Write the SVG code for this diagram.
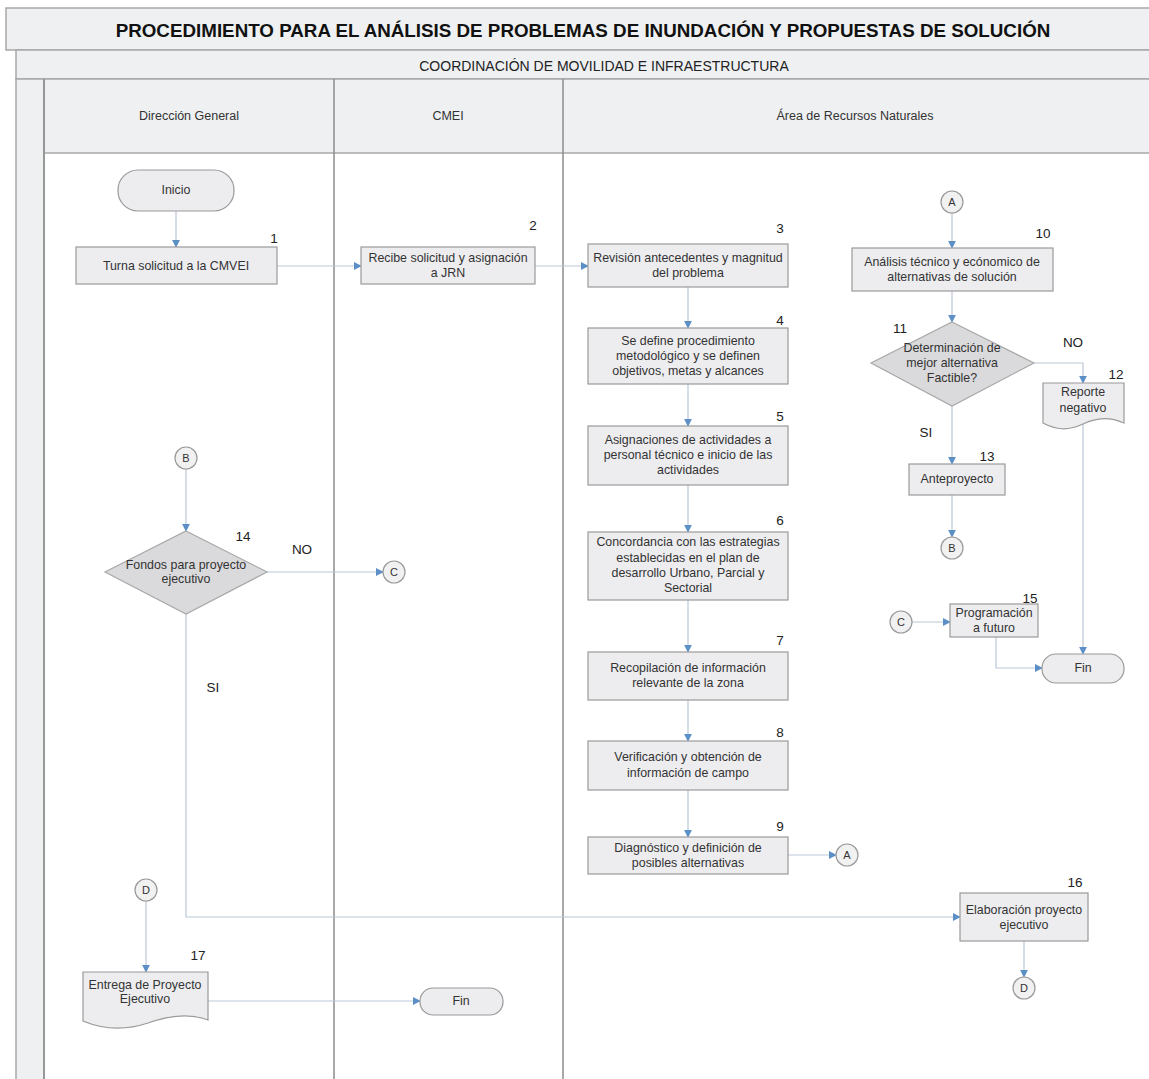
<svg xmlns="http://www.w3.org/2000/svg" width="1149" height="1079" viewBox="0 0 1149 1079">
<defs>
<style>
.hdr{fill:#eef0f2;stroke:#a6a8aa;stroke-width:1.5}
.lane{stroke:#8c8c8c;stroke-width:1.5;fill:none}
.box{fill:#ededf0;stroke:#9a9a9a;stroke-width:1.2}
.dec{fill:#dadadc;stroke:#a8a8a8;stroke-width:1.2}
.con{fill:#f1f1f1;stroke:#9a9a9a;stroke-width:1.2}
.t{font-family:"Liberation Sans",Arial,sans-serif;font-size:12.4px;fill:#333;text-anchor:middle;dominant-baseline:central}
.n{font-family:"Liberation Sans",Arial,sans-serif;font-size:13.5px;fill:#222;text-anchor:middle;dominant-baseline:central}
.c{font-family:"Liberation Sans",Arial,sans-serif;font-size:11px;fill:#333;text-anchor:middle;dominant-baseline:central}
.l{font-family:"Liberation Sans",Arial,sans-serif;font-size:12.5px;fill:#333;text-anchor:middle;dominant-baseline:central}
.edge{stroke:#b9c7d6;stroke-width:1.2;fill:none;marker-end:url(#ah)}
</style>
<marker id="ah" viewBox="0 0 10 10" refX="9" refY="5" markerWidth="8" markerHeight="8" markerUnits="userSpaceOnUse" orient="auto">
<path d="M0,0 L10,5 L0,10 Z" fill="#5b8fc6"/>
</marker>
</defs>
<rect width="1149" height="1079" fill="#ffffff"/>
<g id="pool">
<rect class="hdr" x="6" y="8" width="1150" height="42"/>
<text x="583" y="30" font-family="Liberation Sans,Arial,sans-serif" font-size="18.8" font-weight="bold" fill="#111" text-anchor="middle" dominant-baseline="central">PROCEDIMIENTO PARA EL ANÁLISIS DE PROBLEMAS DE INUNDACIÓN Y PROPUESTAS DE SOLUCIÓN</text>
<rect class="hdr" x="16" y="50" width="1140" height="29"/>
<text x="604" y="66" font-family="Liberation Sans,Arial,sans-serif" font-size="14" fill="#222" text-anchor="middle" dominant-baseline="central">COORDINACIÓN DE MOVILIDAD E INFRAESTRUCTURA</text>
<rect class="hdr" x="16" y="79" width="28" height="1010"/>
<rect class="hdr" x="44" y="79" width="1112" height="74"/>
<line class="lane" x1="44" y1="79" x2="44" y2="1079"/>
<line class="lane" x1="334" y1="79" x2="334" y2="1079"/>
<line class="lane" x1="563" y1="79" x2="563" y2="1079"/>
<text class="l" x="189" y="116">Dirección General</text>
<text class="l" x="448" y="116">CMEI</text>
<text class="l" x="855" y="116">Área de Recursos Naturales</text>
</g>
<g id="connectors">
<path class="edge" d="M176,211 V247"/>
<path class="edge" d="M277,266 H361"/>
<path class="edge" d="M535,266 H588"/>
<path class="edge" d="M688,287 V328"/>
<path class="edge" d="M688,384 V426"/>
<path class="edge" d="M688,485 V532"/>
<path class="edge" d="M688,600 V652"/>
<path class="edge" d="M688,700 V741"/>
<path class="edge" d="M688,790 V837"/>
<path class="edge" d="M788,855 H836"/>
<path class="edge" d="M952,213 V248"/>
<path class="edge" d="M952,291 V322"/>
<path class="edge" d="M1034,363 H1083 V383"/>
<path class="edge" d="M952,406 V464"/>
<path class="edge" d="M952,495 V537"/>
<path class="edge" d="M912,622 H950"/>
<path class="edge" d="M996,637 V668 H1042"/>
<path class="edge" d="M1083,424 V654"/>
<path class="edge" d="M186,469 V531"/>
<path class="edge" d="M267,572 H383"/>
<path class="edge" d="M186,614 V917 H960"/>
<path class="edge" d="M1024,941 V977"/>
<path class="edge" d="M146,901 V972"/>
<path class="edge" d="M208,1001 H420"/>
</g>
<g id="inicio">
<rect class="box" x="118" y="170" width="116" height="41" rx="20"/>
<text class="t" x="176" y="190">Inicio</text>
</g>
<g id="n1">
<rect class="box" x="76" y="247" width="201" height="37"/>
<text class="t" x="176" y="266">Turna solicitud a la CMVEI</text>
<text class="n" x="274" y="238">1</text>
</g>
<g id="n2">
<rect class="box" x="361" y="247" width="174" height="37"/>
<text class="t" x="448" y="258">Recibe solicitud y asignación</text>
<text class="t" x="448" y="273">a JRN</text>
<text class="n" x="533" y="225">2</text>
</g>
<g id="n3">
<rect class="box" x="588" y="244" width="200" height="43"/>
<text class="t" x="688" y="258">Revisión antecedentes y magnitud</text>
<text class="t" x="688" y="273">del problema</text>
<text class="n" x="780" y="228">3</text>
</g>
<g id="n4">
<rect class="box" x="588" y="328" width="200" height="56"/>
<text class="t" x="688" y="341">Se define procedimiento</text>
<text class="t" x="688" y="356">metodológico y se definen</text>
<text class="t" x="688" y="371">objetivos, metas y alcances</text>
<text class="n" x="780" y="320">4</text>
</g>
<g id="n5">
<rect class="box" x="588" y="426" width="200" height="59"/>
<text class="t" x="688" y="440">Asignaciones de actividades a</text>
<text class="t" x="688" y="455">personal técnico e inicio de las</text>
<text class="t" x="688" y="470">actividades</text>
<text class="n" x="780" y="416">5</text>
</g>
<g id="n6">
<rect class="box" x="588" y="532" width="200" height="68"/>
<text class="t" x="688" y="542">Concordancia  con las estrategias</text>
<text class="t" x="688" y="558">establecidas en el plan de</text>
<text class="t" x="688" y="573">desarrollo Urbano, Parcial y</text>
<text class="t" x="688" y="588">Sectorial</text>
<text class="n" x="780" y="520">6</text>
</g>
<g id="n7">
<rect class="box" x="588" y="652" width="200" height="48"/>
<text class="t" x="688" y="668">Recopilación de información</text>
<text class="t" x="688" y="683">relevante de la zona</text>
<text class="n" x="780" y="640">7</text>
</g>
<g id="n8">
<rect class="box" x="588" y="741" width="200" height="49"/>
<text class="t" x="688" y="757">Verificación y obtención de</text>
<text class="t" x="688" y="773">información de campo</text>
<text class="n" x="780" y="732">8</text>
</g>
<g id="n9">
<rect class="box" x="588" y="837" width="200" height="37"/>
<text class="t" x="688" y="848">Diagnóstico y definición de</text>
<text class="t" x="688" y="863">posibles alternativas</text>
<text class="n" x="780" y="826">9</text>
</g>
<g id="connA1">
<circle class="con" cx="847" cy="855" r="11"/>
<text class="c" x="847" y="855">A</text>
</g>
<g id="connA2">
<circle class="con" cx="952" cy="202" r="11"/>
<text class="c" x="952" y="202">A</text>
</g>
<g id="n10">
<rect class="box" x="852" y="248" width="201" height="43"/>
<text class="t" x="952" y="262">Análisis técnico y ecónomico de</text>
<text class="t" x="952" y="277">alternativas de solución</text>
<text class="n" x="1043" y="233">10</text>
</g>
<g id="n11">
<polygon class="dec" points="952,322 1034,363 952,406 871,363"/>
<text class="t" x="952" y="348">Determinación de</text>
<text class="t" x="952" y="363">mejor alternativa</text>
<text class="t" x="952" y="378">Factible?</text>
<text class="n" x="900" y="328">11</text>
<text class="n" x="1073" y="342">NO</text>
<text class="n" x="926" y="432">SI</text>
</g>
<g id="n12">
<path class="box" d="M1043,383 H1124 V423 C1110,417 1098,417 1083,424 C1068,431 1056,430 1043,423 Z"/>
<text class="t" x="1083" y="392">Reporte</text>
<text class="t" x="1083" y="408">negativo</text>
<text class="n" x="1116" y="374">12</text>
</g>
<g id="n13">
<rect class="box" x="909" y="464" width="96" height="31"/>
<text class="t" x="957" y="479">Anteproyecto</text>
<text class="n" x="987" y="456">13</text>
</g>
<g id="connB1">
<circle class="con" cx="952" cy="548" r="11"/>
<text class="c" x="952" y="548">B</text>
</g>
<g id="connC2">
<circle class="con" cx="901" cy="622" r="11"/>
<text class="c" x="901" y="622">C</text>
</g>
<g id="n15">
<rect class="box" x="950" y="604" width="88" height="33"/>
<text class="t" x="994" y="613">Programación</text>
<text class="t" x="994" y="628">a futuro</text>
<text class="n" x="1030" y="598">15</text>
</g>
<g id="fin1">
<rect class="box" x="1042" y="654" width="82" height="29" rx="14"/>
<text class="t" x="1083" y="668">Fin</text>
</g>
<g id="connB2">
<circle class="con" cx="186" cy="458" r="11"/>
<text class="c" x="186" y="458">B</text>
</g>
<g id="n14">
<polygon class="dec" points="186,531 267,572 186,614 105,572"/>
<text class="t" x="186" y="565">Fondos para proyecto</text>
<text class="t" x="186" y="579">ejecutivo</text>
<text class="n" x="243" y="536">14</text>
<text class="n" x="302" y="549">NO</text>
<text class="n" x="213" y="687">SI</text>
</g>
<g id="connC1">
<circle class="con" cx="394" cy="572" r="11"/>
<text class="c" x="394" y="572">C</text>
</g>
<g id="n16">
<rect class="box" x="960" y="893" width="128" height="48"/>
<text class="t" x="1024" y="910">Elaboración proyecto</text>
<text class="t" x="1024" y="925">ejecutivo</text>
<text class="n" x="1075" y="882">16</text>
</g>
<g id="connD1">
<circle class="con" cx="1024" cy="988" r="11"/>
<text class="c" x="1024" y="988">D</text>
</g>
<g id="connD2">
<circle class="con" cx="146" cy="890" r="11"/>
<text class="c" x="146" y="890">D</text>
</g>
<g id="n17">
<path class="box" d="M83,972 H208 V1020 C190,1013 170,1015 148,1023 C124,1031 102,1029 83,1021 Z"/>
<text class="t" x="145" y="985">Entrega de Proyecto</text>
<text class="t" x="145" y="999">Ejecutivo</text>
<text class="n" x="198" y="955">17</text>
</g>
<g id="fin2">
<rect class="box" x="420" y="988" width="83" height="27" rx="13"/>
<text class="t" x="461" y="1001">Fin</text>
</g>
</svg>
